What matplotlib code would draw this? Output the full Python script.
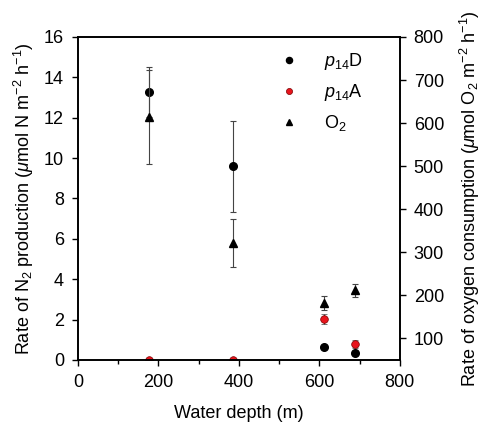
import matplotlib.pyplot as plt
from matplotlib.ticker import MultipleLocator

plt.rcParams['font.family'] = ['Liberation Sans', 'DejaVu Sans']
plt.rcParams['mathtext.fontset'] = 'custom'
plt.rcParams['mathtext.rm'] = 'Liberation Sans'
plt.rcParams['mathtext.it'] = 'Liberation Sans:italic'
plt.rcParams['font.size'] = 13

# data
depth = [176, 385, 611, 688]
p14d = [13.27, 9.59, 0.63, 0.33]
p14d_err = [1.25, 2.26, 0.1, 0.1]
p14a = [0.0, 0.0, 2.03, 0.81]
p14a_err = [0.0, 0.0, 0.25, 0.2]
o2 = [614, 322, 182, 212]
o2_err = [109, 56, 17, 15]

fig = plt.figure(figsize=(4.87, 4.25), dpi=100)
ax = fig.add_axes([0.160, 0.153, 0.661, 0.760])
ax2 = ax.twinx()

ebkw = dict(ecolor='#444444', elinewidth=0.8, capsize=2.5, capthick=0.8, linestyle='none')
e3 = ax2.errorbar(depth, o2, yerr=o2_err, fmt='^', color='black', markersize=5.5, **ebkw)
e1 = ax.errorbar(depth, p14d, yerr=p14d_err, fmt='o', color='black', markersize=5.5, **ebkw)
e2 = ax.errorbar(depth, p14a, yerr=p14a_err, fmt='o', color='#e8141c', mec='#7a0000',
                 mew=0.5, markersize=5.5, **ebkw)

ax.set_xlim(0, 800)
ax.set_ylim(0, 16)
ax2.set_ylim(50, 800)
ax.xaxis.set_major_locator(MultipleLocator(200))
ax.xaxis.set_minor_locator(MultipleLocator(100))
ax.yaxis.set_major_locator(MultipleLocator(2))
ax2.set_yticks(range(100, 801, 100))

for a in (ax, ax2):
    a.tick_params(direction='out', length=4, width=1, labelsize=13, pad=6)
    a.tick_params(which='minor', direction='out', length=3, width=1)
    for s in a.spines.values():
        s.set_linewidth(1.2)

ax.set_xlabel('Water depth (m)', fontsize=13, labelpad=10)
ax.set_ylabel('Rate of N$_2$ production ($\\mu$mol N m$^{-2}$ h$^{-1}$)', fontsize=13, labelpad=6)
ax2.set_ylabel('Rate of oxygen consumption ($\\mu$mol O$_2$ m$^{-2}$ h$^{-1}$)', fontsize=13,
               labelpad=10)

ax2.legend([e1[0], e2[0], e3[0]], ['$p_{14}$D', '$p_{14}$A', 'O$_2$'],
           loc='upper right', frameon=False, fontsize=13, markerscale=0.8,
           handlelength=1.5, handletextpad=1.2, labelspacing=0.55,
           borderaxespad=0.4, bbox_to_anchor=(0.93, 1.0))

fig.savefig('out.png', dpi=100)
